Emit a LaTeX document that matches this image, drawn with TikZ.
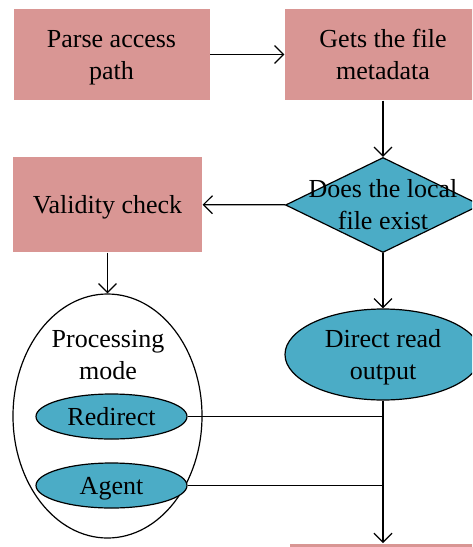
\documentclass[tikz,border=0pt]{standalone}
\usepackage{fontspec}
\setmainfont{Liberation Serif}
\usetikzlibrary{shapes,arrows.meta,positioning}
\definecolor{boxpink}{HTML}{D99694}
\definecolor{ovalblue}{HTML}{4BACC6}

\begin{document}
\begin{tikzpicture}[x=1pt,y=-1pt,line width=1.2pt,
  font=\fontsize{26}{32}\selectfont,
  >={Straight Barb[length=9pt,width=18pt]},
  pinkbox/.style={rectangle,fill=boxpink,minimum width=196pt,minimum height=91pt,inner sep=0pt,align=center,text depth=-1pt},
  oval/.style={ellipse,draw,fill=ovalblue,inner sep=0pt,align=center,text depth=-1pt},
  decision/.style={diamond,draw,fill=ovalblue,inner sep=0pt,minimum width=195pt,minimum height=95pt}]
\useasboundingbox (0,0) rectangle (472,547);
\clip (0,0) rectangle (472,547);

\node[pinkbox] (parse) at (111.5,54.5) {Parse access\\path};
\node[pinkbox] (meta) at (383,54.5) {Gets the file\\metadata};
\node[decision,label={[align=center]center:Does the local\\file exist}] (exist) at (383,205) {};
\node[pinkbox,minimum width=189pt,minimum height=95pt] (check) at (107.5,204.5) {Validity check};

\node[ellipse,draw,fill=white,minimum width=189pt,minimum height=244pt] (mode) at (107.5,416) {};
\node[align=center] (modetext) at (108,355) {Processing\\mode};
\node[oval,minimum width=151pt,minimum height=45pt] (redirect) at (111.5,416.5) {Redirect};
\node[oval,minimum width=151pt,minimum height=45pt] (agent) at (111.5,485.5) {Agent};

\node[oval,minimum width=196pt,minimum height=91pt] (direct) at (383,354.5) {Direct read\\output};
\node[pinkbox,minimum width=186pt,anchor=north] (out) at (383,543) {};

\draw[->] (parse) -- (meta);
\draw[->] (meta) -- (exist);
\draw[->] (exist) -- (check);
\draw[->] (check) -- (mode);
\draw[->] (exist) -- (direct);
\draw (redirect.east) -- (redirect.east -| direct.south);
\draw (agent.east) -- (agent.east -| direct.south);
\draw[->] (direct) -- (out);

\end{tikzpicture}
\end{document}
